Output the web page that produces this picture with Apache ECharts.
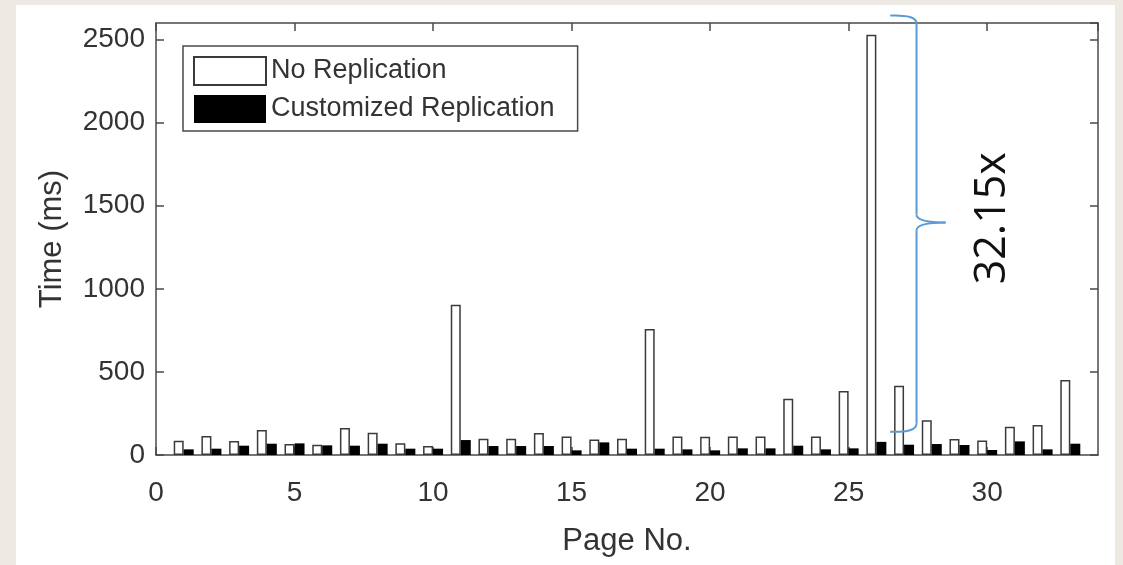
<!DOCTYPE html>
<html>
<head>
<meta charset="utf-8">
<script src="https://cdn.jsdelivr.net/npm/echarts@6/dist/echarts.min.js"></script>
<style>
    html, body { margin: 0; padding: 0; background: #edeae3; }
    #chart { width: 1123px; height: 565px; }
</style>
</head>
<body>
<div id="chart"></div>
<script>
// page numbers on the x axis
const pages = [1, 2, 3, 4, 5, 6, 7, 8, 9, 10, 11, 12, 13, 14, 15, 16, 17,
    18, 19, 20, 21, 22, 23, 24, 25, 26, 27, 28, 29, 30, 31, 32, 33];

// load time (ms) per page
const noReplication = [86, 114, 84, 150, 66, 62, 162, 134, 70, 54, 905, 98, 98, 132, 112, 94, 98,
    759, 112, 110, 112, 112, 339, 112, 385, 2530, 417, 209, 96, 88, 170, 181, 451];
const customizedReplication = [34, 38, 56, 68, 70, 58, 56, 68, 38, 38, 90, 54, 54, 54, 28, 76, 38,
    38, 34, 28, 40, 40, 56, 34, 40, 79, 62, 66, 60, 30, 82, 34, 68];

const seriesNames = ['No Replication', 'Customized Replication'];
const speedupLabel = '32.15x';

function pairs(values) {
    const out = [];
    values.forEach(function(v, i) {
        out.push([pages[i], v]);
    });
    return out;
}

const font = 'Liberation Sans';
const axisColor = '#4a4a4a';
const textColor = '#333';

function plainNumber(v) {
    return String(v);
}

function boxAxis(extra) {
    // shared look of the four MATLAB style box edges
    return Object.assign({
        type: 'value',
        axisLine: { show: true, onZero: false, lineStyle: { color: axisColor, width: 1.5 } },
        axisTick: { show: true, inside: true, length: 8, lineStyle: { color: axisColor, width: 1.5 } },
        splitLine: { show: false }
    }, extra);
}

var chart = echarts.init(document.getElementById('chart'));

option = {
    backgroundColor: '#edeae3',
    animation: false,
    textStyle: { fontFamily: font },
    grid: { left: 156, right: 25, top: 23, bottom: 110 },
    legend: {
        orient: 'vertical',
        left: 183,
        top: 46,
        padding: [10, 23, 8, 10],
        itemGap: 9,
        itemWidth: 72,
        itemHeight: 28,
        backgroundColor: '#fff',
        borderColor: axisColor,
        borderWidth: 1.5,
        borderRadius: 0,
        icon: 'rect',
        textStyle: { fontSize: 27, color: textColor, fontFamily: font },
        data: seriesNames
    },
    xAxis: [boxAxis({
        min: 0,
        max: 34,
        interval: 5,
        name: 'Page No.',
        nameLocation: 'middle',
        nameGap: 71,
        nameTextStyle: { fontSize: 31, color: textColor },
        axisLabel: { fontSize: 28, color: textColor, margin: 24, showMaxLabel: false, formatter: plainNumber }
    }), boxAxis({
        position: 'top',
        min: 0,
        max: 34,
        interval: 5,
        axisLabel: { show: false }
    })],
    yAxis: [boxAxis({
        min: 0,
        max: 2600,
        interval: 500,
        name: 'Time (ms)',
        nameLocation: 'middle',
        nameGap: 88,
        nameTextStyle: { fontSize: 31, color: textColor },
        axisLabel: { fontSize: 28, color: textColor, margin: 11, showMaxLabel: false, formatter: plainNumber }
    }), boxAxis({
        position: 'right',
        min: 0,
        max: 2600,
        interval: 500,
        axisLabel: { show: false }
    })],
    series: [{
        name: seriesNames[0],
        type: 'bar',
        data: pairs(noReplication),
        barWidth: 10,
        barGap: '0%',
        itemStyle: { color: '#fff', borderColor: '#3a3a3a', borderWidth: 1.5 }
    }, {
        name: seriesNames[1],
        type: 'bar',
        data: pairs(customizedReplication),
        barWidth: 10,
        barGap: '0%',
        itemStyle: { color: '#000' }
    }]
};

chart.setOption(option);

// curly brace marking the speedup on page 26, placed in data coordinates
function px(x, y) {
    return chart.convertToPixel({ xAxisIndex: 0, yAxisIndex: 0 }, [x, y]);
}
const endTop = px(26.5, 2645);
const endBottom = px(26.5, 140);
const spine = px(27.45, 1400);
const tip = px(28.5, 1400);
const xv = spine[0], ym = spine[1];
const braceStyle = { stroke: '#5b9bd5', lineWidth: 2, fill: 'none' };

function curve(x1, y1, cx, cy, x2, y2) {
    return { type: 'bezierCurve', z: 100, silent: true,
        shape: { x1: x1, y1: y1, cpx1: cx, cpy1: cy, x2: x2, y2: y2 }, style: braceStyle };
}
function segment(x1, y1, x2, y2) {
    return { type: 'line', z: 100, silent: true,
        shape: { x1: x1, y1: y1, x2: x2, y2: y2 }, style: braceStyle };
}

const labelPos = px(30.2, 1425);

chart.setOption({
    graphic: [{
        type: 'rect',
        z: -100,
        silent: true,
        shape: { x: 16, y: 5, width: 1099, height: 560 },
        style: { fill: '#fff' }
    },
    curve(endTop[0], endTop[1], xv, endTop[1] - 1, xv, endTop[1] + 8),
    segment(xv, endTop[1] + 8, xv, ym - 8),
    curve(xv, ym - 8, xv, ym, tip[0], ym),
    curve(tip[0], ym, xv, ym, xv, ym + 8),
    segment(xv, ym + 8, xv, endBottom[1] - 8),
    curve(xv, endBottom[1] - 8, xv, endBottom[1] + 1, endBottom[0], endBottom[1]),
    {
        type: 'text',
        z: 100,
        silent: true,
        x: labelPos[0],
        y: labelPos[1],
        rotation: Math.PI / 2,
        style: {
            text: speedupLabel,
            fontSize: 43,
            fontFamily: 'Open Sans',
            fill: '#111',
            align: 'center',
            verticalAlign: 'middle'
        }
    }]
});
</script>
</body>
</html>
